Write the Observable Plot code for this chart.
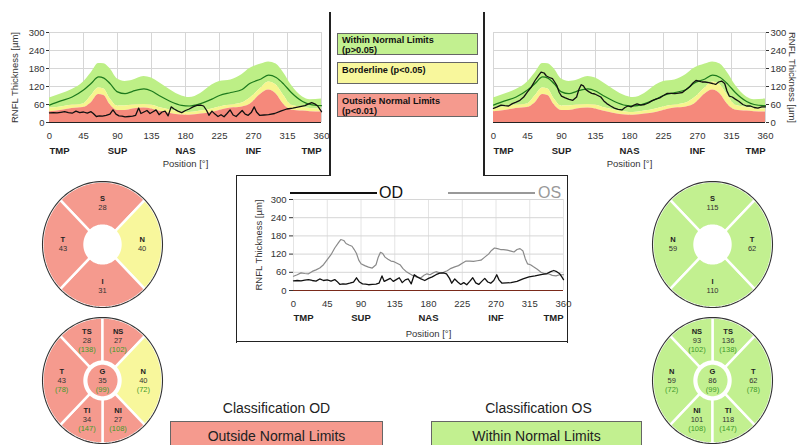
<!DOCTYPE html>
<html><head><meta charset="utf-8">
<script src="https://cdn.jsdelivr.net/npm/d3@7"></script>
<script src="https://cdn.jsdelivr.net/npm/@observablehq/plot@0.6"></script>
<style>
body{margin:0;background:#fff;font-family:"Liberation Sans",Arial,sans-serif;}
#root{position:relative;width:798px;height:445px;overflow:hidden;background:#fff;}
.abs{position:absolute;}
.ln{position:absolute;background:#222;}
.lg{position:absolute;border:1px solid #666;font-weight:bold;font-size:9.2px;line-height:9.5px;color:#111;box-sizing:border-box;padding:2px 0 0 4px;}
.ttl{position:absolute;font-size:14px;color:#222;text-align:center;}
.cls{position:absolute;border:1px solid #666;box-sizing:border-box;font-size:14px;color:#222;text-align:center;line-height:28px;}
</style></head><body><div id="root"></div>
<script>
// ---------- data ----------
const xTicks = [0,45,90,135,180,225,270,315,360];
const yTicks = [0,60,120,180,240,300];
const regionPos = [0,90,180,270,360];
const regionNames = ["TMP","SUP","NAS","INF","TMP"];

// normative bands (shared)
const normPos = [0,15,30,45,55,65,72,80,90,100,110,125,135,145,160,175,185,200,215,225,240,255,265,280,290,300,310,320,335,345,360];
const p95   = [82,95,110,135,165,197,196,180,145,137,141,153,148,133,108,88,83,97,125,137,142,160,180,195,202,195,165,125,85,76,78];
const meanN = [58,72,85,108,130,152,148,130,102,96,104,112,105,90,70,57,55,63,78,90,100,110,130,145,158,150,128,100,70,60,56];
const p5    = [48,52,58,62,88,115,112,80,55,55,58,60,58,50,42,35,33,38,45,52,58,65,80,115,135,125,90,58,50,47,45];
const p1    = [36,40,47,50,65,93,90,60,40,40,45,48,45,38,30,25,24,28,33,40,48,52,60,95,108,95,60,42,38,36,35];

// OD measured
const posOD = [0,5,10,15,20,25,30,35,40,45,50,55,58,62,66,70,75,80,84,88,92,96,100,105,110,114,118,121,125,129,133,137,141,145,149,153,157,161,165,170,175,180,185,190,195,200,204,208,211,215,219,223,227,231,235,239,243,247,251,255,259,263,267,271,274,278,284,290,298,306,314,322,330,338,343,347,351,355,358,360];
const valOD = [32,33,32,34,36,33,31,38,33,35,31,36,30,20,22,21,24,28,42,28,22,21,19,20,21,24,48,30,35,40,30,36,42,26,35,38,22,52,45,38,33,40,45,52,57,58,55,40,24,38,28,20,26,19,30,42,25,20,30,40,28,24,33,52,35,24,25,26,30,38,45,48,52,56,62,66,62,55,44,36];

// OS measured
const posOS = [0,5,10,15,20,25,30,35,40,45,50,55,60,63,67,70,74,78,81,84,87,90,95,100,105,110,113,116,119,122,126,130,134,138,142,146,150,155,160,165,170,174,178,182,186,190,195,200,205,210,215,220,225,230,235,240,245,250,255,260,264,268,272,276,280,285,290,294,298,302,306,309,312,316,320,325,330,335,340,345,350,355,360];
const valOS = [47,52,58,56,55,63,68,74,85,102,118,140,158,168,165,155,150,146,135,122,100,88,82,77,74,85,110,126,122,110,103,97,95,90,85,72,63,55,48,44,42,50,55,52,58,62,58,60,65,73,78,82,90,97,97,96,98,100,110,120,132,140,138,135,135,133,130,127,135,138,130,105,88,85,78,70,60,55,55,50,48,52,52];

// quadrant rings
const quadNames = ["S","N","I","T"];
const odQuadValues = [28,40,31,43];
const odQuadClass = ["outside","borderline","outside","outside"];
const osQuadValues = [115,59,110,62];
const osQuadClass = ["within","within","within","within"];

// clock-sector rings
const sectorNames = ["TS","NS","N","NI","TI","T","G"];
const normalValues = [138,102,72,108,147,78,99];
const odSectorValues = [28,27,40,27,34,43,35];
const odSectorClass = ["outside","outside","borderline","outside","outside","outside","outside"];
const osSectorValues = [136,93,59,101,118,62,86];
const osSectorClass = ["within","within","within","within","within","within","within"];

// ---------- styles ----------
const FONT = '"Liberation Sans", Arial, sans-serif';
const COL = {within:"#c2f090", borderline:"#f8f79c", outside:"#f59a8e"};
const BAND = {within:"#bdef86", borderline:"#f7f58e", outside:"#f5897b"};
const root = document.getElementById("root");
function place(el, left, top){ el.style.position="absolute"; el.style.left=left+"px"; el.style.top=top+"px"; root.appendChild(el); return el; }
function div(cls, left, top, w, h, html, extra){ const d=document.createElement("div"); d.className=cls; d.style.left=left+"px"; d.style.top=top+"px"; if(w!=null) d.style.width=w+"px"; if(h!=null) d.style.height=h+"px"; if(html) d.innerHTML=html; if(extra) Object.assign(d.style, extra); root.appendChild(d); return d; }

const regions = regionPos.map((p,i)=>({pos:p, name:regionNames[i]}));
const norm = normPos.map((p,i)=>({pos:p, p1:p1[i], p5:p5[i], p95:p95[i], mean:meanN[i]}));

function regionMarks(dy){
  return [
    Plot.text(regions.filter(d=>d.pos===0), {x:"pos", y:0, dy, text:"name", textAnchor:"start", fontWeight:"bold", fill:"#222"}),
    Plot.text(regions.filter(d=>d.pos>0 && d.pos<360), {x:"pos", y:0, dy, text:"name", fontWeight:"bold", fill:"#222"}),
    Plot.text(regions.filter(d=>d.pos===360), {x:"pos", y:0, dy, text:"name", textAnchor:"end", fontWeight:"bold", fill:"#222"})
  ];
}

function topChart(pos, val, right){
  const meas = pos.map((p,i)=>({pos:p, v:val[i]}));
  const W = right ? 314 : 330;
  const mL = right ? 9 : 49;
  const mR = W - mL - 272;
  const curve = "monotone-x";
  return Plot.plot({
    width: W, height: 170, marginLeft: mL, marginRight: mR, marginTop: 32, marginBottom: 48,
    style: {fontFamily: FONT, fontSize: "9.5px", color: "#333", background: "transparent", overflow: "visible"},
    x: {domain: [0,360], label: null}, y: {domain: [0,300], label: null},
    marks: [
      Plot.gridX(xTicks, {stroke:"#d6d6d6", strokeOpacity:1}),
      Plot.gridY(yTicks, {stroke:"#d6d6d6", strokeOpacity:1}),
      Plot.areaY(norm, {x:"pos", y1:"p5", y2:"p95", fill: BAND.within, curve}),
      Plot.areaY(norm, {x:"pos", y1:"p1", y2:"p5", fill: BAND.borderline, curve}),
      Plot.areaY(norm, {x:"pos", y1:0, y2:"p1", fill: BAND.outside, curve}),
      Plot.line(norm, {x:"pos", y:"mean", stroke:"#1d7a1d", strokeWidth:1.2, curve}),
      Plot.ruleY([0], {stroke:"#222", strokeWidth:1}),
      Plot.line(meas, {x:"pos", y:"v", stroke:"#111", strokeWidth:1.3}),
      Plot.axisX(xTicks, {tickSize:0, tickPadding:10, label:null}),
      Plot.axisY(yTicks, {anchor: right ? "right" : "left", tickSize:3, tickPadding:2, label:null}),
      ...regionMarks(28),
      Plot.text(["Position [°]"], {x:180, y:0, dy:41, text:d=>d, fill:"#333"}),
      Plot.text(["RNFL Thickness [µm]"], {frameAnchor: right ? "right" : "left", textAnchor:"middle", lineAnchor:"middle", rotate: right ? 90 : -90, dx: right ? 27 : -35, text:d=>d, fill:"#333"})
    ]
  });
}

function centerChart(){
  const od = posOD.map((p,i)=>({pos:p, v:valOD[i]}));
  const os = posOS.map((p,i)=>({pos:p, v:valOS[i]}));
  return Plot.plot({
    width: 328, height: 165, marginLeft: 55, marginRight: 3, marginTop: 23, marginBottom: 51,
    style: {fontFamily: FONT, fontSize: "9.5px", color: "#333", background: "transparent", overflow: "visible"},
    x: {domain: [0,360], label: null}, y: {domain: [0,300], label: null},
    marks: [
      Plot.gridX(xTicks, {stroke:"#e4e4e4", strokeOpacity:1}),
      Plot.gridY(yTicks, {stroke:"#d6d6d6", strokeOpacity:1}),
      Plot.ruleY([0], {stroke:"#7a2a1a", strokeWidth:1}),
      Plot.line(os, {x:"pos", y:"v", stroke:"#8a8a8a", strokeWidth:1.2}),
      Plot.line(od, {x:"pos", y:"v", stroke:"#111", strokeWidth:1.3}),
      Plot.axisX(xTicks, {tickSize:0, tickPadding:10, label:null}),
      Plot.axisY(yTicks, {tickSize:4, tickPadding:3, label:null}),
      ...regionMarks(27),
      Plot.text(["Position [°]"], {x:180, y:0, dy:43, text:d=>d, fill:"#333"}),
      Plot.text(["RNFL Thickness [µm]"], {frameAnchor:"left", textAnchor:"middle", lineAnchor:"middle", rotate:-90, dx:-35, text:d=>d, fill:"#333"})
    ]
  });
}

// ring geometry
const quadSpan = {S:[45,135], T:[135,225], I:[225,315], N:[-45,45]};
const sectorSpan = {NS:[45,90], TS:[90,135], T:[135,225], TI:[225,270], NI:[270,315], N:[-45,45]};
const rad = a => a*Math.PI/180;
function arcPts(a0, a1, r, n){ const out=[]; for(let k=0;k<=n;k++){ const a=rad(a0+(a1-a0)*k/n); out.push({x:r*Math.cos(a), y:r*Math.sin(a)}); } return out; }
function annulus(a0, a1, r0, r1){ const inner=arcPts(a0,a1,r0,30); const outer=arcPts(a1,a0,r1,60); return [...inner, ...outer, inner[0]]; }

function ring(names, values, classes, normals, eye, clock){
  const spans = clock ? sectorSpan : quadSpan;
  const marks = [];
  const labels = [];
  names.forEach((n,i)=>{
    const fill = COL[classes[i]];
    if (n === "G") {
      marks.push(Plot.line(arcPts(0,360,0.25,80), {x:"x", y:"y", fill, stroke:"none"}));
      labels.push({x:0, y:0, name:n, value:values[i], normal: normals ? normals[i] : null});
      return;
    }
    let [a0,a1] = spans[n];
    if (eye === "OS") [a0,a1] = [180-a1, 180-a0];
    marks.push(Plot.line(annulus(a0,a1,0.3,1), {x:"x", y:"y", fill, stroke:"white", strokeWidth:2.4}));
    const mid = rad((a0+a1)/2), r = clock ? 0.68 : 0.66;
    labels.push({x:r*Math.cos(mid), y:r*Math.sin(mid), name:n, value:values[i], normal: normals ? normals[i] : null});
  });
  marks.push(Plot.line(arcPts(0,360,1,120), {x:"x", y:"y", stroke:"#333", strokeWidth:1.1}));
  marks.push(Plot.text(labels, {x:"x", y:"y", text:"name", dy: clock ? -9 : -4.5, fontWeight:"bold", fill:"#222"}));
  marks.push(Plot.text(labels, {x:"x", y:"y", text:"value", dy: clock ? 0 : 4.5, fill:"#333"}));
  if (clock) marks.push(Plot.text(labels, {x:"x", y:"y", text:d=>"("+d.normal+")", dy:9, fill:"#3f9a2a"}));
  return Plot.plot({
    width:124, height:130, margin:2,
    x:{domain:[-1,1], axis:null}, y:{domain:[-1,1], axis:null},
    style:{fontFamily:FONT, fontSize:"7.5px", background:"transparent", overflow:"visible"},
    marks
  });
}

// ---------- layout ----------
place(topChart(posOD, valOD, false), 0, 0);
place(topChart(posOS, valOS, true), 484, 0);

// frame lines
div("ln", 329, 12, 1.6, 164);
div("ln", 483, 12, 1.6, 164);
div("ln", 236, 175, 95, 1.4);
div("ln", 483, 175, 85, 1.4);
div("ln", 236, 175, 1.4, 168);
div("ln", 567, 175, 1.4, 168);
div("ln", 236, 341, 332.4, 1.4);

// legend boxes
div("lg", 337, 33, 141, 22, "Within Normal Limits<br>(p&gt;0.05)", {background: COL.within});
div("lg", 337, 62, 141, 22, "Borderline (p&lt;0.05)", {background: COL.borderline, paddingTop:"3px"});
div("lg", 337, 93, 141, 24, "Outside Normal Limits<br>(p&lt;0.01)", {background: COL.outside, paddingTop:"3px"});

// center chart
place(centerChart(), 238, 176);
div("abs", 290, 192, 87, 2, "", {background:"#111"});
div("abs", 379, 183, 40, 20, "OD", {fontSize:"16px", color:"#111", lineHeight:"20px"});
div("abs", 448, 192, 87, 2, "", {background:"#999"});
div("abs", 538, 183, 40, 20, "OS", {fontSize:"16px", color:"#999", lineHeight:"20px"});

// rings
place(ring(quadNames, odQuadValues, odQuadClass, null, "OD", false), 40, 179);
place(ring(sectorNames, odSectorValues, odSectorClass, normalValues, "OD", true), 40, 315);
place(ring(quadNames, osQuadValues, osQuadClass, null, "OS", false), 650, 179);
place(ring(sectorNames, osSectorValues, osSectorClass, normalValues, "OS", true), 650, 315);

// classification
div("ttl", 170, 400, 213, 18, "Classification OD");
div("cls", 170, 421, 213, 30, "Outside Normal Limits", {background: COL.outside});
div("ttl", 431, 400, 215, 18, "Classification OS");
div("cls", 431, 421, 211, 30, "Within Normal Limits", {background: COL.within});
</script>
</body></html>
